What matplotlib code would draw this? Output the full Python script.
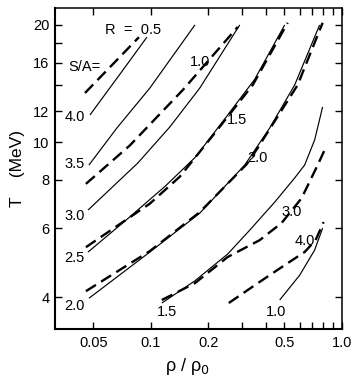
import matplotlib
matplotlib.use("Agg")
import matplotlib.pyplot as plt
from matplotlib.ticker import FixedLocator, FixedFormatter, NullFormatter

plt.rcParams['font.family'] = ['Liberation Sans Narrow', 'Liberation Sans', 'DejaVu Sans']

# ---- data: solid lines (constant S/A) ----
sa_labels = ["4.0", "3.5", "3.0", "2.5", "2.0", "1.5", "1.0"]
sa_rho = [
    [0.048, 0.0678, 0.0953],
    [0.0474, 0.0664, 0.0988, 0.170],
    [0.0469, 0.0855, 0.1257, 0.1803, 0.2917],
    [0.0469, 0.0735, 0.1187, 0.1703, 0.2445, 0.3494, 0.5013],
    [0.0474, 0.0988, 0.1803, 0.3098, 0.4185, 0.5655, 0.7638],
    [0.1141, 0.1698, 0.2525, 0.329, 0.4444, 0.5655, 0.6376, 0.7192, 0.7918],
    [0.472, 0.6004, 0.7192, 0.7918],
]
sa_T = [
    [11.74, 14.79, 18.6],
    [8.73, 10.87, 13.77, 20.0],
    [6.69, 8.84, 10.94, 13.77, 20.0],
    [5.22, 6.28, 7.70, 9.13, 11.5, 14.5, 20.0],
    [3.97, 5.22, 6.57, 8.73, 10.87, 14.02, 20.0],
    [3.86, 4.40, 5.16, 5.94, 7.01, 8.09, 8.73, 10.13, 12.31],
    [3.93, 4.55, 5.28, 6.01],
]

# ---- data: dashed lines (constant R) ----
r_labels = ["0.5", "1.0", "1.5", "2.0", "3.0", "4.0"]
r_rho = [
    [0.0452, 0.0866],
    [0.0457, 0.0777, 0.1469, 0.2848],
    [0.0457, 0.0988, 0.1417, 0.2058, 0.3412, 0.5197],
    [0.0457, 0.0988, 0.1803, 0.3175, 0.3622, 0.586, 0.7918],
    [0.1141, 0.1698, 0.2525, 0.3712, 0.4834, 0.615, 0.7457, 0.811],
    [0.2556, 0.3622, 0.5013, 0.6376, 0.7277, 0.8013],
]
r_T = [
    [13.37, 18.6],
    [7.81, 9.81, 13.61, 19.76],
    [5.37, 6.95, 8.15, 10.24, 14.02, 20.25],
    [4.14, 5.25, 6.61, 8.78, 9.66, 14.02, 20.25],
    [3.93, 4.34, 5.07, 5.60, 6.20, 7.18, 8.73, 9.54],
    [3.86, 4.34, 4.83, 5.22, 5.60, 6.23],
]

x_major = [0.05, 0.1, 0.2, 0.5, 1.0]
x_major_labels = ["0.05", "0.1", "0.2", "0.5", "1.0"]
x_minor = [0.3, 0.4, 0.6, 0.7, 0.8, 0.9]
y_major = [4, 6, 8, 10, 12, 16, 20]
y_major_labels = ["4", "6", "8", "10", "12", "16", "20"]
y_minor = [14, 18]

# label positions (data coords)
sa_label_pos = [(0.0452, 11.6, 'right'), (0.0452, 8.78, 'right'), (0.0452, 6.46, 'right'),
                (0.0452, 5.05, 'right'), (0.0452, 3.79, 'right'), (0.1212, 3.66, 'center'),
                (0.450, 3.66, 'center')]
r_label_pos = [None, (0.1803, 16.06, 'center'), (0.2814, 11.40, 'center'),
               (0.3622, 9.10, 'center'), (0.5454, 6.61, 'center'), (0.6376, 5.57, 'center')]

fig = plt.figure(figsize=(3.54, 3.82), dpi=100)
ax = fig.add_axes([0.1554, 0.1387, 0.8107, 0.8403])
ax.set_xscale('log')
ax.set_yscale('log')
ax.set_xlim(0.0315, 1.0)
ax.set_ylim(3.31, 22.1)

for xs, ys in zip(sa_rho, sa_T):
    ax.plot(xs, ys, color='black', lw=0.85, solid_capstyle='butt', solid_joinstyle='round')
for xs, ys in zip(r_rho, r_T):
    ax.plot(xs, ys, color='black', lw=1.7, linestyle=(0, (5.0, 2.6)), dash_capstyle='butt')

fs = 10.5
for lab, pos in zip(sa_labels, sa_label_pos):
    ax.text(pos[0], pos[1], lab, ha=pos[2], va='center', fontsize=fs)
for lab, pos in zip(r_labels, r_label_pos):
    if pos is not None:
        ax.text(pos[0], pos[1], lab, ha=pos[2], va='center', fontsize=fs)
ax.text(0.0575, 19.42, "R  =  " + r_labels[0], ha='left', va='center', fontsize=fs)
ax.text(0.0368, 15.6, "S/A=", ha='left', va='center', fontsize=fs)

ax.xaxis.set_major_locator(FixedLocator(x_major))
ax.xaxis.set_major_formatter(FixedFormatter(x_major_labels))
ax.xaxis.set_minor_locator(FixedLocator(x_minor))
ax.xaxis.set_minor_formatter(NullFormatter())
ax.yaxis.set_major_locator(FixedLocator(y_major))
ax.yaxis.set_major_formatter(FixedFormatter(y_major_labels))
ax.yaxis.set_minor_locator(FixedLocator(y_minor))
ax.yaxis.set_minor_formatter(NullFormatter())

ax.tick_params(axis='x', which='both', direction='in', top=True, bottom=True,
               length=5, width=1.0, labelsize=fs, pad=5)
ax.tick_params(axis='y', which='both', direction='in', left=True, right=True,
               length=5, width=1.0, labelsize=fs, pad=4)

for s in ['left', 'bottom']:
    ax.spines[s].set_linewidth(1.5)
for s in ['top', 'right']:
    ax.spines[s].set_linewidth(1.1)

ax.set_xlabel("ρ / ρ$_0$", fontsize=13, family=['Liberation Sans', 'DejaVu Sans'], labelpad=4)
ax.xaxis.set_label_coords(0.46, -0.085)
ax.set_ylabel("T    (MeV)", fontsize=12.5, family=['Liberation Sans', 'DejaVu Sans'], labelpad=6)

fig.savefig("out.png", dpi=100)
